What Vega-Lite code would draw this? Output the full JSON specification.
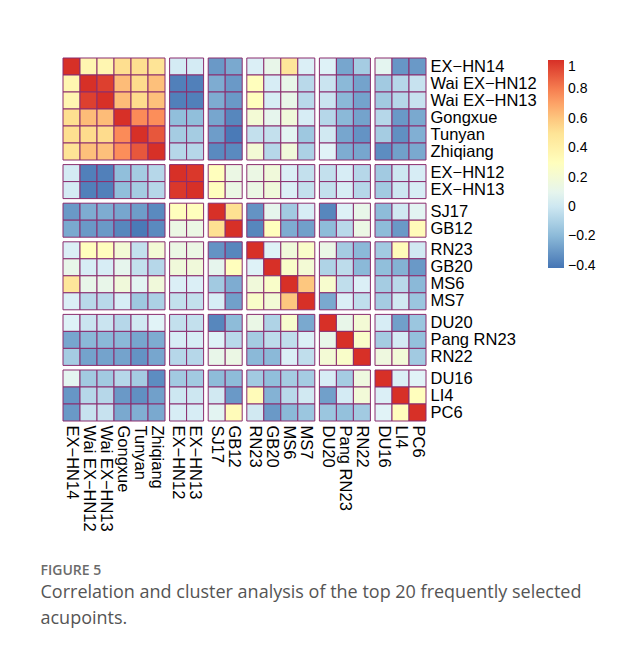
{
"$schema":"https://vega.github.io/schema/vega-lite/v6.json",
"background":"white",
"padding":{"left":40,"top":57,"right":0,"bottom":12},
"autosize":{"type":"pad"},
"title":{"text":"FIGURE 5","subtitle":["Correlation and cluster analysis of the top 20 frequently selected","acupoints."],"orient":"bottom","anchor":"start","frame":"bounds","dx":-22,"offset":33,"font":"Open Sans","fontSize":14,"fontWeight":600,"color":"#6b6b6b","subtitleFont":"Open Sans","subtitleFontSize":18,"subtitleColor":"#555555","subtitleLineHeight":26,"subtitlePadding":6},
"data":{"values":[
{"r":"EX−HN14","rg":1,"c":"EX−HN14","cg":1,"v":1},{"r":"EX−HN14","rg":1,"c":"Wai EX−HN12","cg":1,"v":0.36},{"r":"EX−HN14","rg":1,"c":"Wai EX−HN13","cg":1,"v":0.36},{"r":"EX−HN14","rg":1,"c":"Gongxue","cg":1,"v":0.53},{"r":"EX−HN14","rg":1,"c":"Tunyan","cg":1,"v":0.53},{"r":"EX−HN14","rg":1,"c":"Zhiqiang","cg":1,"v":0.5},{"r":"EX−HN14","rg":1,"c":"EX−HN12","cg":2,"v":0.02},{"r":"EX−HN14","rg":1,"c":"EX−HN13","cg":2,"v":0.02},{"r":"EX−HN14","rg":1,"c":"SJ17","cg":3,"v":-0.3},{"r":"EX−HN14","rg":1,"c":"GB12","cg":3,"v":-0.25},{"r":"EX−HN14","rg":1,"c":"RN23","cg":4,"v":0.04},{"r":"EX−HN14","rg":1,"c":"GB20","cg":4,"v":0.12},{"r":"EX−HN14","rg":1,"c":"MS6","cg":4,"v":0.48},{"r":"EX−HN14","rg":1,"c":"MS7","cg":4,"v":0.04},{"r":"EX−HN14","rg":1,"c":"DU20","cg":5,"v":0.05},{"r":"EX−HN14","rg":1,"c":"Pang RN23","cg":5,"v":-0.26},{"r":"EX−HN14","rg":1,"c":"RN22","cg":5,"v":-0.12},{"r":"EX−HN14","rg":1,"c":"DU16","cg":6,"v":0.09},{"r":"EX−HN14","rg":1,"c":"LI4","cg":6,"v":-0.31},{"r":"EX−HN14","rg":1,"c":"PC6","cg":6,"v":-0.3},
{"r":"Wai EX−HN12","rg":1,"c":"EX−HN14","cg":1,"v":0.36},{"r":"Wai EX−HN12","rg":1,"c":"Wai EX−HN12","cg":1,"v":1},{"r":"Wai EX−HN12","rg":1,"c":"Wai EX−HN13","cg":1,"v":0.96},{"r":"Wai EX−HN12","rg":1,"c":"Gongxue","cg":1,"v":0.63},{"r":"Wai EX−HN12","rg":1,"c":"Tunyan","cg":1,"v":0.54},{"r":"Wai EX−HN12","rg":1,"c":"Zhiqiang","cg":1,"v":0.62},{"r":"Wai EX−HN12","rg":1,"c":"EX−HN12","cg":2,"v":-0.38},{"r":"Wai EX−HN12","rg":1,"c":"EX−HN13","cg":2,"v":-0.38},{"r":"Wai EX−HN12","rg":1,"c":"SJ17","cg":3,"v":-0.24},{"r":"Wai EX−HN12","rg":1,"c":"GB12","cg":3,"v":-0.3},{"r":"Wai EX−HN12","rg":1,"c":"RN23","cg":4,"v":0.3},{"r":"Wai EX−HN12","rg":1,"c":"GB20","cg":4,"v":0.03},{"r":"Wai EX−HN12","rg":1,"c":"MS6","cg":4,"v":0.12},{"r":"Wai EX−HN12","rg":1,"c":"MS7","cg":4,"v":-0.06},{"r":"Wai EX−HN12","rg":1,"c":"DU20","cg":5,"v":-0.01},{"r":"Wai EX−HN12","rg":1,"c":"Pang RN23","cg":5,"v":-0.2},{"r":"Wai EX−HN12","rg":1,"c":"RN22","cg":5,"v":-0.27},{"r":"Wai EX−HN12","rg":1,"c":"DU16","cg":6,"v":-0.13},{"r":"Wai EX−HN12","rg":1,"c":"LI4","cg":6,"v":-0.07},{"r":"Wai EX−HN12","rg":1,"c":"PC6","cg":6,"v":-0.02},
{"r":"Wai EX−HN13","rg":1,"c":"EX−HN14","cg":1,"v":0.36},{"r":"Wai EX−HN13","rg":1,"c":"Wai EX−HN12","cg":1,"v":0.96},{"r":"Wai EX−HN13","rg":1,"c":"Wai EX−HN13","cg":1,"v":1},{"r":"Wai EX−HN13","rg":1,"c":"Gongxue","cg":1,"v":0.63},{"r":"Wai EX−HN13","rg":1,"c":"Tunyan","cg":1,"v":0.54},{"r":"Wai EX−HN13","rg":1,"c":"Zhiqiang","cg":1,"v":0.62},{"r":"Wai EX−HN13","rg":1,"c":"EX−HN12","cg":2,"v":-0.38},{"r":"Wai EX−HN13","rg":1,"c":"EX−HN13","cg":2,"v":-0.38},{"r":"Wai EX−HN13","rg":1,"c":"SJ17","cg":3,"v":-0.24},{"r":"Wai EX−HN13","rg":1,"c":"GB12","cg":3,"v":-0.3},{"r":"Wai EX−HN13","rg":1,"c":"RN23","cg":4,"v":0.3},{"r":"Wai EX−HN13","rg":1,"c":"GB20","cg":4,"v":0.03},{"r":"Wai EX−HN13","rg":1,"c":"MS6","cg":4,"v":0.12},{"r":"Wai EX−HN13","rg":1,"c":"MS7","cg":4,"v":-0.06},{"r":"Wai EX−HN13","rg":1,"c":"DU20","cg":5,"v":-0.01},{"r":"Wai EX−HN13","rg":1,"c":"Pang RN23","cg":5,"v":-0.2},{"r":"Wai EX−HN13","rg":1,"c":"RN22","cg":5,"v":-0.27},{"r":"Wai EX−HN13","rg":1,"c":"DU16","cg":6,"v":-0.13},{"r":"Wai EX−HN13","rg":1,"c":"LI4","cg":6,"v":-0.07},{"r":"Wai EX−HN13","rg":1,"c":"PC6","cg":6,"v":-0.02},
{"r":"Gongxue","rg":1,"c":"EX−HN14","cg":1,"v":0.53},{"r":"Gongxue","rg":1,"c":"Wai EX−HN12","cg":1,"v":0.63},{"r":"Gongxue","rg":1,"c":"Wai EX−HN13","cg":1,"v":0.63},{"r":"Gongxue","rg":1,"c":"Gongxue","cg":1,"v":1},{"r":"Gongxue","rg":1,"c":"Tunyan","cg":1,"v":0.77},{"r":"Gongxue","rg":1,"c":"Zhiqiang","cg":1,"v":0.76},{"r":"Gongxue","rg":1,"c":"EX−HN12","cg":2,"v":-0.18},{"r":"Gongxue","rg":1,"c":"EX−HN13","cg":2,"v":-0.18},{"r":"Gongxue","rg":1,"c":"SJ17","cg":3,"v":-0.26},{"r":"Gongxue","rg":1,"c":"GB12","cg":3,"v":-0.36},{"r":"Gongxue","rg":1,"c":"RN23","cg":4,"v":0.2},{"r":"Gongxue","rg":1,"c":"GB20","cg":4,"v":0.1},{"r":"Gongxue","rg":1,"c":"MS6","cg":4,"v":0.18},{"r":"Gongxue","rg":1,"c":"MS7","cg":4,"v":0.03},{"r":"Gongxue","rg":1,"c":"DU20","cg":5,"v":-0.07},{"r":"Gongxue","rg":1,"c":"Pang RN23","cg":5,"v":-0.2},{"r":"Gongxue","rg":1,"c":"RN22","cg":5,"v":-0.27},{"r":"Gongxue","rg":1,"c":"DU16","cg":6,"v":-0.07},{"r":"Gongxue","rg":1,"c":"LI4","cg":6,"v":-0.3},{"r":"Gongxue","rg":1,"c":"PC6","cg":6,"v":-0.25},
{"r":"Tunyan","rg":1,"c":"EX−HN14","cg":1,"v":0.53},{"r":"Tunyan","rg":1,"c":"Wai EX−HN12","cg":1,"v":0.54},{"r":"Tunyan","rg":1,"c":"Wai EX−HN13","cg":1,"v":0.54},{"r":"Tunyan","rg":1,"c":"Gongxue","cg":1,"v":0.77},{"r":"Tunyan","rg":1,"c":"Tunyan","cg":1,"v":1},{"r":"Tunyan","rg":1,"c":"Zhiqiang","cg":1,"v":0.9},{"r":"Tunyan","rg":1,"c":"EX−HN12","cg":2,"v":-0.12},{"r":"Tunyan","rg":1,"c":"EX−HN13","cg":2,"v":-0.12},{"r":"Tunyan","rg":1,"c":"SJ17","cg":3,"v":-0.29},{"r":"Tunyan","rg":1,"c":"GB12","cg":3,"v":-0.4},{"r":"Tunyan","rg":1,"c":"RN23","cg":4,"v":-0.03},{"r":"Tunyan","rg":1,"c":"GB20","cg":4,"v":-0.03},{"r":"Tunyan","rg":1,"c":"MS6","cg":4,"v":0.08},{"r":"Tunyan","rg":1,"c":"MS7","cg":4,"v":-0.14},{"r":"Tunyan","rg":1,"c":"DU20","cg":5,"v":0.01},{"r":"Tunyan","rg":1,"c":"Pang RN23","cg":5,"v":-0.26},{"r":"Tunyan","rg":1,"c":"RN22","cg":5,"v":-0.32},{"r":"Tunyan","rg":1,"c":"DU16","cg":6,"v":-0.12},{"r":"Tunyan","rg":1,"c":"LI4","cg":6,"v":-0.33},{"r":"Tunyan","rg":1,"c":"PC6","cg":6,"v":-0.23},
{"r":"Zhiqiang","rg":1,"c":"EX−HN14","cg":1,"v":0.5},{"r":"Zhiqiang","rg":1,"c":"Wai EX−HN12","cg":1,"v":0.62},{"r":"Zhiqiang","rg":1,"c":"Wai EX−HN13","cg":1,"v":0.62},{"r":"Zhiqiang","rg":1,"c":"Gongxue","cg":1,"v":0.76},{"r":"Zhiqiang","rg":1,"c":"Tunyan","cg":1,"v":0.9},{"r":"Zhiqiang","rg":1,"c":"Zhiqiang","cg":1,"v":1},{"r":"Zhiqiang","rg":1,"c":"EX−HN12","cg":2,"v":-0.07},{"r":"Zhiqiang","rg":1,"c":"EX−HN13","cg":2,"v":-0.07},{"r":"Zhiqiang","rg":1,"c":"SJ17","cg":3,"v":-0.35},{"r":"Zhiqiang","rg":1,"c":"GB12","cg":3,"v":-0.35},{"r":"Zhiqiang","rg":1,"c":"RN23","cg":4,"v":0.2},{"r":"Zhiqiang","rg":1,"c":"GB20","cg":4,"v":-0.07},{"r":"Zhiqiang","rg":1,"c":"MS6","cg":4,"v":0.18},{"r":"Zhiqiang","rg":1,"c":"MS7","cg":4,"v":-0.1},{"r":"Zhiqiang","rg":1,"c":"DU20","cg":5,"v":0.06},{"r":"Zhiqiang","rg":1,"c":"Pang RN23","cg":5,"v":-0.24},{"r":"Zhiqiang","rg":1,"c":"RN22","cg":5,"v":-0.26},{"r":"Zhiqiang","rg":1,"c":"DU16","cg":6,"v":-0.34},{"r":"Zhiqiang","rg":1,"c":"LI4","cg":6,"v":-0.28},{"r":"Zhiqiang","rg":1,"c":"PC6","cg":6,"v":-0.25},
{"r":"EX−HN12","rg":2,"c":"EX−HN14","cg":1,"v":0.02},{"r":"EX−HN12","rg":2,"c":"Wai EX−HN12","cg":1,"v":-0.38},{"r":"EX−HN12","rg":2,"c":"Wai EX−HN13","cg":1,"v":-0.38},{"r":"EX−HN12","rg":2,"c":"Gongxue","cg":1,"v":-0.18},{"r":"EX−HN12","rg":2,"c":"Tunyan","cg":1,"v":-0.12},{"r":"EX−HN12","rg":2,"c":"Zhiqiang","cg":1,"v":-0.07},{"r":"EX−HN12","rg":2,"c":"EX−HN12","cg":2,"v":1},{"r":"EX−HN12","rg":2,"c":"EX−HN13","cg":2,"v":0.98},{"r":"EX−HN12","rg":2,"c":"SJ17","cg":3,"v":0.3},{"r":"EX−HN12","rg":2,"c":"GB12","cg":3,"v":0.14},{"r":"EX−HN12","rg":2,"c":"RN23","cg":4,"v":0.14},{"r":"EX−HN12","rg":2,"c":"GB20","cg":4,"v":0.18},{"r":"EX−HN12","rg":2,"c":"MS6","cg":4,"v":0.04},{"r":"EX−HN12","rg":2,"c":"MS7","cg":4,"v":-0.03},{"r":"EX−HN12","rg":2,"c":"DU20","cg":5,"v":-0.03},{"r":"EX−HN12","rg":2,"c":"Pang RN23","cg":5,"v":0.03},{"r":"EX−HN12","rg":2,"c":"RN22","cg":5,"v":-0.07},{"r":"EX−HN12","rg":2,"c":"DU16","cg":6,"v":-0.13},{"r":"EX−HN12","rg":2,"c":"LI4","cg":6,"v":0},{"r":"EX−HN12","rg":2,"c":"PC6","cg":6,"v":0.03},
{"r":"EX−HN13","rg":2,"c":"EX−HN14","cg":1,"v":0.02},{"r":"EX−HN13","rg":2,"c":"Wai EX−HN12","cg":1,"v":-0.38},{"r":"EX−HN13","rg":2,"c":"Wai EX−HN13","cg":1,"v":-0.38},{"r":"EX−HN13","rg":2,"c":"Gongxue","cg":1,"v":-0.18},{"r":"EX−HN13","rg":2,"c":"Tunyan","cg":1,"v":-0.12},{"r":"EX−HN13","rg":2,"c":"Zhiqiang","cg":1,"v":-0.07},{"r":"EX−HN13","rg":2,"c":"EX−HN12","cg":2,"v":0.98},{"r":"EX−HN13","rg":2,"c":"EX−HN13","cg":2,"v":1},{"r":"EX−HN13","rg":2,"c":"SJ17","cg":3,"v":0.3},{"r":"EX−HN13","rg":2,"c":"GB12","cg":3,"v":0.14},{"r":"EX−HN13","rg":2,"c":"RN23","cg":4,"v":0.14},{"r":"EX−HN13","rg":2,"c":"GB20","cg":4,"v":0.18},{"r":"EX−HN13","rg":2,"c":"MS6","cg":4,"v":0.04},{"r":"EX−HN13","rg":2,"c":"MS7","cg":4,"v":-0.03},{"r":"EX−HN13","rg":2,"c":"DU20","cg":5,"v":-0.03},{"r":"EX−HN13","rg":2,"c":"Pang RN23","cg":5,"v":0.03},{"r":"EX−HN13","rg":2,"c":"RN22","cg":5,"v":-0.07},{"r":"EX−HN13","rg":2,"c":"DU16","cg":6,"v":-0.13},{"r":"EX−HN13","rg":2,"c":"LI4","cg":6,"v":0},{"r":"EX−HN13","rg":2,"c":"PC6","cg":6,"v":0.03},
{"r":"SJ17","rg":3,"c":"EX−HN14","cg":1,"v":-0.3},{"r":"SJ17","rg":3,"c":"Wai EX−HN12","cg":1,"v":-0.24},{"r":"SJ17","rg":3,"c":"Wai EX−HN13","cg":1,"v":-0.24},{"r":"SJ17","rg":3,"c":"Gongxue","cg":1,"v":-0.26},{"r":"SJ17","rg":3,"c":"Tunyan","cg":1,"v":-0.29},{"r":"SJ17","rg":3,"c":"Zhiqiang","cg":1,"v":-0.35},{"r":"SJ17","rg":3,"c":"EX−HN12","cg":2,"v":0.3},{"r":"SJ17","rg":3,"c":"EX−HN13","cg":2,"v":0.3},{"r":"SJ17","rg":3,"c":"SJ17","cg":3,"v":1},{"r":"SJ17","rg":3,"c":"GB12","cg":3,"v":0.52},{"r":"SJ17","rg":3,"c":"RN23","cg":4,"v":-0.32},{"r":"SJ17","rg":3,"c":"GB20","cg":4,"v":0.1},{"r":"SJ17","rg":3,"c":"MS6","cg":4,"v":-0.13},{"r":"SJ17","rg":3,"c":"MS7","cg":4,"v":0.03},{"r":"SJ17","rg":3,"c":"DU20","cg":5,"v":-0.36},{"r":"SJ17","rg":3,"c":"Pang RN23","cg":5,"v":0.05},{"r":"SJ17","rg":3,"c":"RN22","cg":5,"v":0.12},{"r":"SJ17","rg":3,"c":"DU16","cg":6,"v":-0.19},{"r":"SJ17","rg":3,"c":"LI4","cg":6,"v":0.01},{"r":"SJ17","rg":3,"c":"PC6","cg":6,"v":0.08},
{"r":"GB12","rg":3,"c":"EX−HN14","cg":1,"v":-0.25},{"r":"GB12","rg":3,"c":"Wai EX−HN12","cg":1,"v":-0.3},{"r":"GB12","rg":3,"c":"Wai EX−HN13","cg":1,"v":-0.3},{"r":"GB12","rg":3,"c":"Gongxue","cg":1,"v":-0.36},{"r":"GB12","rg":3,"c":"Tunyan","cg":1,"v":-0.4},{"r":"GB12","rg":3,"c":"Zhiqiang","cg":1,"v":-0.35},{"r":"GB12","rg":3,"c":"EX−HN12","cg":2,"v":0.14},{"r":"GB12","rg":3,"c":"EX−HN13","cg":2,"v":0.14},{"r":"GB12","rg":3,"c":"SJ17","cg":3,"v":0.52},{"r":"GB12","rg":3,"c":"GB12","cg":3,"v":1},{"r":"GB12","rg":3,"c":"RN23","cg":4,"v":-0.36},{"r":"GB12","rg":3,"c":"GB20","cg":4,"v":0.3},{"r":"GB12","rg":3,"c":"MS6","cg":4,"v":-0.24},{"r":"GB12","rg":3,"c":"MS7","cg":4,"v":-0.28},{"r":"GB12","rg":3,"c":"DU20","cg":5,"v":-0.19},{"r":"GB12","rg":3,"c":"Pang RN23","cg":5,"v":-0.06},{"r":"GB12","rg":3,"c":"RN22","cg":5,"v":0.14},{"r":"GB12","rg":3,"c":"DU16","cg":6,"v":-0.19},{"r":"GB12","rg":3,"c":"LI4","cg":6,"v":-0.3},{"r":"GB12","rg":3,"c":"PC6","cg":6,"v":0.32},
{"r":"RN23","rg":4,"c":"EX−HN14","cg":1,"v":0.04},{"r":"RN23","rg":4,"c":"Wai EX−HN12","cg":1,"v":0.3},{"r":"RN23","rg":4,"c":"Wai EX−HN13","cg":1,"v":0.3},{"r":"RN23","rg":4,"c":"Gongxue","cg":1,"v":0.2},{"r":"RN23","rg":4,"c":"Tunyan","cg":1,"v":-0.03},{"r":"RN23","rg":4,"c":"Zhiqiang","cg":1,"v":0.2},{"r":"RN23","rg":4,"c":"EX−HN12","cg":2,"v":0.14},{"r":"RN23","rg":4,"c":"EX−HN13","cg":2,"v":0.14},{"r":"RN23","rg":4,"c":"SJ17","cg":3,"v":-0.32},{"r":"RN23","rg":4,"c":"GB12","cg":3,"v":-0.36},{"r":"RN23","rg":4,"c":"RN23","cg":4,"v":1},{"r":"RN23","rg":4,"c":"GB20","cg":4,"v":0.05},{"r":"RN23","rg":4,"c":"MS6","cg":4,"v":0.18},{"r":"RN23","rg":4,"c":"MS7","cg":4,"v":0.25},{"r":"RN23","rg":4,"c":"DU20","cg":5,"v":0.13},{"r":"RN23","rg":4,"c":"Pang RN23","cg":5,"v":-0.12},{"r":"RN23","rg":4,"c":"RN22","cg":5,"v":-0.2},{"r":"RN23","rg":4,"c":"DU16","cg":6,"v":-0.13},{"r":"RN23","rg":4,"c":"LI4","cg":6,"v":0.32},{"r":"RN23","rg":4,"c":"PC6","cg":6,"v":0.01},
{"r":"GB20","rg":4,"c":"EX−HN14","cg":1,"v":0.12},{"r":"GB20","rg":4,"c":"Wai EX−HN12","cg":1,"v":0.03},{"r":"GB20","rg":4,"c":"Wai EX−HN13","cg":1,"v":0.03},{"r":"GB20","rg":4,"c":"Gongxue","cg":1,"v":0.1},{"r":"GB20","rg":4,"c":"Tunyan","cg":1,"v":-0.03},{"r":"GB20","rg":4,"c":"Zhiqiang","cg":1,"v":-0.07},{"r":"GB20","rg":4,"c":"EX−HN12","cg":2,"v":0.18},{"r":"GB20","rg":4,"c":"EX−HN13","cg":2,"v":0.18},{"r":"GB20","rg":4,"c":"SJ17","cg":3,"v":0.1},{"r":"GB20","rg":4,"c":"GB12","cg":3,"v":0.3},{"r":"GB20","rg":4,"c":"RN23","cg":4,"v":0.05},{"r":"GB20","rg":4,"c":"GB20","cg":4,"v":1},{"r":"GB20","rg":4,"c":"MS6","cg":4,"v":0.25},{"r":"GB20","rg":4,"c":"MS7","cg":4,"v":0.2},{"r":"GB20","rg":4,"c":"DU20","cg":5,"v":-0.09},{"r":"GB20","rg":4,"c":"Pang RN23","cg":5,"v":-0.05},{"r":"GB20","rg":4,"c":"RN22","cg":5,"v":-0.2},{"r":"GB20","rg":4,"c":"DU16","cg":6,"v":-0.18},{"r":"GB20","rg":4,"c":"LI4","cg":6,"v":-0.22},{"r":"GB20","rg":4,"c":"PC6","cg":6,"v":-0.3},
{"r":"MS6","rg":4,"c":"EX−HN14","cg":1,"v":0.48},{"r":"MS6","rg":4,"c":"Wai EX−HN12","cg":1,"v":0.12},{"r":"MS6","rg":4,"c":"Wai EX−HN13","cg":1,"v":0.12},{"r":"MS6","rg":4,"c":"Gongxue","cg":1,"v":0.18},{"r":"MS6","rg":4,"c":"Tunyan","cg":1,"v":0.08},{"r":"MS6","rg":4,"c":"Zhiqiang","cg":1,"v":0.18},{"r":"MS6","rg":4,"c":"EX−HN12","cg":2,"v":0.04},{"r":"MS6","rg":4,"c":"EX−HN13","cg":2,"v":0.04},{"r":"MS6","rg":4,"c":"SJ17","cg":3,"v":-0.13},{"r":"MS6","rg":4,"c":"GB12","cg":3,"v":-0.24},{"r":"MS6","rg":4,"c":"RN23","cg":4,"v":0.18},{"r":"MS6","rg":4,"c":"GB20","cg":4,"v":0.25},{"r":"MS6","rg":4,"c":"MS6","cg":4,"v":1},{"r":"MS6","rg":4,"c":"MS7","cg":4,"v":0.6},{"r":"MS6","rg":4,"c":"DU20","cg":5,"v":0.23},{"r":"MS6","rg":4,"c":"Pang RN23","cg":5,"v":-0.04},{"r":"MS6","rg":4,"c":"RN22","cg":5,"v":0.04},{"r":"MS6","rg":4,"c":"DU16","cg":6,"v":-0.12},{"r":"MS6","rg":4,"c":"LI4","cg":6,"v":-0.06},{"r":"MS6","rg":4,"c":"PC6","cg":6,"v":-0.2},
{"r":"MS7","rg":4,"c":"EX−HN14","cg":1,"v":0.04},{"r":"MS7","rg":4,"c":"Wai EX−HN12","cg":1,"v":-0.06},{"r":"MS7","rg":4,"c":"Wai EX−HN13","cg":1,"v":-0.06},{"r":"MS7","rg":4,"c":"Gongxue","cg":1,"v":0.03},{"r":"MS7","rg":4,"c":"Tunyan","cg":1,"v":-0.14},{"r":"MS7","rg":4,"c":"Zhiqiang","cg":1,"v":-0.1},{"r":"MS7","rg":4,"c":"EX−HN12","cg":2,"v":-0.03},{"r":"MS7","rg":4,"c":"EX−HN13","cg":2,"v":-0.03},{"r":"MS7","rg":4,"c":"SJ17","cg":3,"v":0.03},{"r":"MS7","rg":4,"c":"GB12","cg":3,"v":-0.28},{"r":"MS7","rg":4,"c":"RN23","cg":4,"v":0.25},{"r":"MS7","rg":4,"c":"GB20","cg":4,"v":0.2},{"r":"MS7","rg":4,"c":"MS6","cg":4,"v":0.6},{"r":"MS7","rg":4,"c":"MS7","cg":4,"v":1},{"r":"MS7","rg":4,"c":"DU20","cg":5,"v":-0.25},{"r":"MS7","rg":4,"c":"Pang RN23","cg":5,"v":0.04},{"r":"MS7","rg":4,"c":"RN22","cg":5,"v":-0.04},{"r":"MS7","rg":4,"c":"DU16","cg":6,"v":-0.12},{"r":"MS7","rg":4,"c":"LI4","cg":6,"v":0.01},{"r":"MS7","rg":4,"c":"PC6","cg":6,"v":-0.15},
{"r":"DU20","rg":5,"c":"EX−HN14","cg":1,"v":0.05},{"r":"DU20","rg":5,"c":"Wai EX−HN12","cg":1,"v":-0.01},{"r":"DU20","rg":5,"c":"Wai EX−HN13","cg":1,"v":-0.01},{"r":"DU20","rg":5,"c":"Gongxue","cg":1,"v":-0.07},{"r":"DU20","rg":5,"c":"Tunyan","cg":1,"v":0.01},{"r":"DU20","rg":5,"c":"Zhiqiang","cg":1,"v":0.06},{"r":"DU20","rg":5,"c":"EX−HN12","cg":2,"v":-0.03},{"r":"DU20","rg":5,"c":"EX−HN13","cg":2,"v":-0.03},{"r":"DU20","rg":5,"c":"SJ17","cg":3,"v":-0.36},{"r":"DU20","rg":5,"c":"GB12","cg":3,"v":-0.19},{"r":"DU20","rg":5,"c":"RN23","cg":4,"v":0.13},{"r":"DU20","rg":5,"c":"GB20","cg":4,"v":-0.09},{"r":"DU20","rg":5,"c":"MS6","cg":4,"v":0.23},{"r":"DU20","rg":5,"c":"MS7","cg":4,"v":-0.25},{"r":"DU20","rg":5,"c":"DU20","cg":5,"v":1},{"r":"DU20","rg":5,"c":"Pang RN23","cg":5,"v":0.12},{"r":"DU20","rg":5,"c":"RN22","cg":5,"v":0.2},{"r":"DU20","rg":5,"c":"DU16","cg":6,"v":0.03},{"r":"DU20","rg":5,"c":"LI4","cg":6,"v":-0.28},{"r":"DU20","rg":5,"c":"PC6","cg":6,"v":-0.15},
{"r":"Pang RN23","rg":5,"c":"EX−HN14","cg":1,"v":-0.26},{"r":"Pang RN23","rg":5,"c":"Wai EX−HN12","cg":1,"v":-0.2},{"r":"Pang RN23","rg":5,"c":"Wai EX−HN13","cg":1,"v":-0.2},{"r":"Pang RN23","rg":5,"c":"Gongxue","cg":1,"v":-0.2},{"r":"Pang RN23","rg":5,"c":"Tunyan","cg":1,"v":-0.26},{"r":"Pang RN23","rg":5,"c":"Zhiqiang","cg":1,"v":-0.24},{"r":"Pang RN23","rg":5,"c":"EX−HN12","cg":2,"v":0.03},{"r":"Pang RN23","rg":5,"c":"EX−HN13","cg":2,"v":0.03},{"r":"Pang RN23","rg":5,"c":"SJ17","cg":3,"v":0.05},{"r":"Pang RN23","rg":5,"c":"GB12","cg":3,"v":-0.06},{"r":"Pang RN23","rg":5,"c":"RN23","cg":4,"v":-0.12},{"r":"Pang RN23","rg":5,"c":"GB20","cg":4,"v":-0.05},{"r":"Pang RN23","rg":5,"c":"MS6","cg":4,"v":-0.04},{"r":"Pang RN23","rg":5,"c":"MS7","cg":4,"v":0.04},{"r":"Pang RN23","rg":5,"c":"DU20","cg":5,"v":0.12},{"r":"Pang RN23","rg":5,"c":"Pang RN23","cg":5,"v":1},{"r":"Pang RN23","rg":5,"c":"RN22","cg":5,"v":0.25},{"r":"Pang RN23","rg":5,"c":"DU16","cg":6,"v":-0.12},{"r":"Pang RN23","rg":5,"c":"LI4","cg":6,"v":0.02},{"r":"Pang RN23","rg":5,"c":"PC6","cg":6,"v":-0.17},
{"r":"RN22","rg":5,"c":"EX−HN14","cg":1,"v":-0.12},{"r":"RN22","rg":5,"c":"Wai EX−HN12","cg":1,"v":-0.27},{"r":"RN22","rg":5,"c":"Wai EX−HN13","cg":1,"v":-0.27},{"r":"RN22","rg":5,"c":"Gongxue","cg":1,"v":-0.27},{"r":"RN22","rg":5,"c":"Tunyan","cg":1,"v":-0.32},{"r":"RN22","rg":5,"c":"Zhiqiang","cg":1,"v":-0.26},{"r":"RN22","rg":5,"c":"EX−HN12","cg":2,"v":-0.07},{"r":"RN22","rg":5,"c":"EX−HN13","cg":2,"v":-0.07},{"r":"RN22","rg":5,"c":"SJ17","cg":3,"v":0.12},{"r":"RN22","rg":5,"c":"GB12","cg":3,"v":0.14},{"r":"RN22","rg":5,"c":"RN23","cg":4,"v":-0.2},{"r":"RN22","rg":5,"c":"GB20","cg":4,"v":-0.2},{"r":"RN22","rg":5,"c":"MS6","cg":4,"v":0.04},{"r":"RN22","rg":5,"c":"MS7","cg":4,"v":-0.04},{"r":"RN22","rg":5,"c":"DU20","cg":5,"v":0.2},{"r":"RN22","rg":5,"c":"Pang RN23","cg":5,"v":0.25},{"r":"RN22","rg":5,"c":"RN22","cg":5,"v":1},{"r":"RN22","rg":5,"c":"DU16","cg":6,"v":0.16},{"r":"RN22","rg":5,"c":"LI4","cg":6,"v":0.19},{"r":"RN22","rg":5,"c":"PC6","cg":6,"v":-0.13},
{"r":"DU16","rg":6,"c":"EX−HN14","cg":1,"v":0.09},{"r":"DU16","rg":6,"c":"Wai EX−HN12","cg":1,"v":-0.13},{"r":"DU16","rg":6,"c":"Wai EX−HN13","cg":1,"v":-0.13},{"r":"DU16","rg":6,"c":"Gongxue","cg":1,"v":-0.07},{"r":"DU16","rg":6,"c":"Tunyan","cg":1,"v":-0.12},{"r":"DU16","rg":6,"c":"Zhiqiang","cg":1,"v":-0.34},{"r":"DU16","rg":6,"c":"EX−HN12","cg":2,"v":-0.13},{"r":"DU16","rg":6,"c":"EX−HN13","cg":2,"v":-0.13},{"r":"DU16","rg":6,"c":"SJ17","cg":3,"v":-0.19},{"r":"DU16","rg":6,"c":"GB12","cg":3,"v":-0.19},{"r":"DU16","rg":6,"c":"RN23","cg":4,"v":-0.13},{"r":"DU16","rg":6,"c":"GB20","cg":4,"v":-0.18},{"r":"DU16","rg":6,"c":"MS6","cg":4,"v":-0.12},{"r":"DU16","rg":6,"c":"MS7","cg":4,"v":-0.12},{"r":"DU16","rg":6,"c":"DU20","cg":5,"v":0.03},{"r":"DU16","rg":6,"c":"Pang RN23","cg":5,"v":-0.12},{"r":"DU16","rg":6,"c":"RN22","cg":5,"v":0.16},{"r":"DU16","rg":6,"c":"DU16","cg":6,"v":1},{"r":"DU16","rg":6,"c":"LI4","cg":6,"v":0.04},{"r":"DU16","rg":6,"c":"PC6","cg":6,"v":0.06},
{"r":"LI4","rg":6,"c":"EX−HN14","cg":1,"v":-0.31},{"r":"LI4","rg":6,"c":"Wai EX−HN12","cg":1,"v":-0.07},{"r":"LI4","rg":6,"c":"Wai EX−HN13","cg":1,"v":-0.07},{"r":"LI4","rg":6,"c":"Gongxue","cg":1,"v":-0.3},{"r":"LI4","rg":6,"c":"Tunyan","cg":1,"v":-0.33},{"r":"LI4","rg":6,"c":"Zhiqiang","cg":1,"v":-0.28},{"r":"LI4","rg":6,"c":"EX−HN12","cg":2,"v":0},{"r":"LI4","rg":6,"c":"EX−HN13","cg":2,"v":0},{"r":"LI4","rg":6,"c":"SJ17","cg":3,"v":0.01},{"r":"LI4","rg":6,"c":"GB12","cg":3,"v":-0.3},{"r":"LI4","rg":6,"c":"RN23","cg":4,"v":0.32},{"r":"LI4","rg":6,"c":"GB20","cg":4,"v":-0.22},{"r":"LI4","rg":6,"c":"MS6","cg":4,"v":-0.06},{"r":"LI4","rg":6,"c":"MS7","cg":4,"v":0.01},{"r":"LI4","rg":6,"c":"DU20","cg":5,"v":-0.28},{"r":"LI4","rg":6,"c":"Pang RN23","cg":5,"v":0.02},{"r":"LI4","rg":6,"c":"RN22","cg":5,"v":0.19},{"r":"LI4","rg":6,"c":"DU16","cg":6,"v":0.04},{"r":"LI4","rg":6,"c":"LI4","cg":6,"v":1},{"r":"LI4","rg":6,"c":"PC6","cg":6,"v":0.3},
{"r":"PC6","rg":6,"c":"EX−HN14","cg":1,"v":-0.3},{"r":"PC6","rg":6,"c":"Wai EX−HN12","cg":1,"v":-0.02},{"r":"PC6","rg":6,"c":"Wai EX−HN13","cg":1,"v":-0.02},{"r":"PC6","rg":6,"c":"Gongxue","cg":1,"v":-0.25},{"r":"PC6","rg":6,"c":"Tunyan","cg":1,"v":-0.23},{"r":"PC6","rg":6,"c":"Zhiqiang","cg":1,"v":-0.25},{"r":"PC6","rg":6,"c":"EX−HN12","cg":2,"v":0.03},{"r":"PC6","rg":6,"c":"EX−HN13","cg":2,"v":0.03},{"r":"PC6","rg":6,"c":"SJ17","cg":3,"v":0.08},{"r":"PC6","rg":6,"c":"GB12","cg":3,"v":0.32},{"r":"PC6","rg":6,"c":"RN23","cg":4,"v":0.01},{"r":"PC6","rg":6,"c":"GB20","cg":4,"v":-0.3},{"r":"PC6","rg":6,"c":"MS6","cg":4,"v":-0.2},{"r":"PC6","rg":6,"c":"MS7","cg":4,"v":-0.15},{"r":"PC6","rg":6,"c":"DU20","cg":5,"v":-0.15},{"r":"PC6","rg":6,"c":"Pang RN23","cg":5,"v":-0.17},{"r":"PC6","rg":6,"c":"RN22","cg":5,"v":-0.13},{"r":"PC6","rg":6,"c":"DU16","cg":6,"v":0.06},{"r":"PC6","rg":6,"c":"LI4","cg":6,"v":0.3},{"r":"PC6","rg":6,"c":"PC6","cg":6,"v":1}
]},
"columns":6,
"spacing":4.6,
"bounds":"flush",
"concat":[
{"transform":[{"filter":"datum.rg==1&&datum.cg==1"}],"mark":"rect","encoding":{"x":{"field":"c","type":"nominal","sort":null,"axis":null},"y":{"field":"r","type":"nominal","sort":null,"axis":null},"color":{"field":"v","type":"quantitative","scale":{"domain":[-0.416,-0.18,0.056,0.292,0.528,0.764,1],"range":["#4575B4","#91BFDB","#E0F3F8","#FFFFBF","#FEE090","#FC8D59","#D73027"],"interpolate":"rgb"},"legend":{"title":null,"orient":"none","legendX":485,"legendY":2,"direction":"vertical","values":[1,0.8,0.6,0.4,0.2,0,-0.2,-0.4],"format":"~g","gradientLength":208,"gradientThickness":16,"gradientStrokeWidth":0,"labelFont":"Liberation Sans","labelFontSize":14,"labelColor":"#000","labelOffset":4,"labelBaseline":"middle","labelOverlap":false,"padding":0}}}},
{"transform":[{"filter":"datum.rg==1&&datum.cg==2"}],"mark":"rect","encoding":{"x":{"field":"c","type":"nominal","sort":null,"axis":null},"y":{"field":"r","type":"nominal","sort":null,"axis":null},"color":{"field":"v","type":"quantitative","scale":{"domain":[-0.416,-0.18,0.056,0.292,0.528,0.764,1],"range":["#4575B4","#91BFDB","#E0F3F8","#FFFFBF","#FEE090","#FC8D59","#D73027"],"interpolate":"rgb"}}}},
{"transform":[{"filter":"datum.rg==1&&datum.cg==3"}],"mark":"rect","encoding":{"x":{"field":"c","type":"nominal","sort":null,"axis":null},"y":{"field":"r","type":"nominal","sort":null,"axis":null},"color":{"field":"v","type":"quantitative","scale":{"domain":[-0.416,-0.18,0.056,0.292,0.528,0.764,1],"range":["#4575B4","#91BFDB","#E0F3F8","#FFFFBF","#FEE090","#FC8D59","#D73027"],"interpolate":"rgb"}}}},
{"transform":[{"filter":"datum.rg==1&&datum.cg==4"}],"mark":"rect","encoding":{"x":{"field":"c","type":"nominal","sort":null,"axis":null},"y":{"field":"r","type":"nominal","sort":null,"axis":null},"color":{"field":"v","type":"quantitative","scale":{"domain":[-0.416,-0.18,0.056,0.292,0.528,0.764,1],"range":["#4575B4","#91BFDB","#E0F3F8","#FFFFBF","#FEE090","#FC8D59","#D73027"],"interpolate":"rgb"}}}},
{"transform":[{"filter":"datum.rg==1&&datum.cg==5"}],"mark":"rect","encoding":{"x":{"field":"c","type":"nominal","sort":null,"axis":null},"y":{"field":"r","type":"nominal","sort":null,"axis":null},"color":{"field":"v","type":"quantitative","scale":{"domain":[-0.416,-0.18,0.056,0.292,0.528,0.764,1],"range":["#4575B4","#91BFDB","#E0F3F8","#FFFFBF","#FEE090","#FC8D59","#D73027"],"interpolate":"rgb"}}}},
{"transform":[{"filter":"datum.rg==1&&datum.cg==6"}],"mark":"rect","encoding":{"x":{"field":"c","type":"nominal","sort":null,"axis":null},"y":{"field":"r","type":"nominal","sort":null,"axis":{"title":null,"orient":"right"}},"color":{"field":"v","type":"quantitative","scale":{"domain":[-0.416,-0.18,0.056,0.292,0.528,0.764,1],"range":["#4575B4","#91BFDB","#E0F3F8","#FFFFBF","#FEE090","#FC8D59","#D73027"],"interpolate":"rgb"}}}},
{"transform":[{"filter":"datum.rg==2&&datum.cg==1"}],"mark":"rect","encoding":{"x":{"field":"c","type":"nominal","sort":null,"axis":null},"y":{"field":"r","type":"nominal","sort":null,"axis":null},"color":{"field":"v","type":"quantitative","scale":{"domain":[-0.416,-0.18,0.056,0.292,0.528,0.764,1],"range":["#4575B4","#91BFDB","#E0F3F8","#FFFFBF","#FEE090","#FC8D59","#D73027"],"interpolate":"rgb"}}}},
{"transform":[{"filter":"datum.rg==2&&datum.cg==2"}],"mark":"rect","encoding":{"x":{"field":"c","type":"nominal","sort":null,"axis":null},"y":{"field":"r","type":"nominal","sort":null,"axis":null},"color":{"field":"v","type":"quantitative","scale":{"domain":[-0.416,-0.18,0.056,0.292,0.528,0.764,1],"range":["#4575B4","#91BFDB","#E0F3F8","#FFFFBF","#FEE090","#FC8D59","#D73027"],"interpolate":"rgb"}}}},
{"transform":[{"filter":"datum.rg==2&&datum.cg==3"}],"mark":"rect","encoding":{"x":{"field":"c","type":"nominal","sort":null,"axis":null},"y":{"field":"r","type":"nominal","sort":null,"axis":null},"color":{"field":"v","type":"quantitative","scale":{"domain":[-0.416,-0.18,0.056,0.292,0.528,0.764,1],"range":["#4575B4","#91BFDB","#E0F3F8","#FFFFBF","#FEE090","#FC8D59","#D73027"],"interpolate":"rgb"}}}},
{"transform":[{"filter":"datum.rg==2&&datum.cg==4"}],"mark":"rect","encoding":{"x":{"field":"c","type":"nominal","sort":null,"axis":null},"y":{"field":"r","type":"nominal","sort":null,"axis":null},"color":{"field":"v","type":"quantitative","scale":{"domain":[-0.416,-0.18,0.056,0.292,0.528,0.764,1],"range":["#4575B4","#91BFDB","#E0F3F8","#FFFFBF","#FEE090","#FC8D59","#D73027"],"interpolate":"rgb"}}}},
{"transform":[{"filter":"datum.rg==2&&datum.cg==5"}],"mark":"rect","encoding":{"x":{"field":"c","type":"nominal","sort":null,"axis":null},"y":{"field":"r","type":"nominal","sort":null,"axis":null},"color":{"field":"v","type":"quantitative","scale":{"domain":[-0.416,-0.18,0.056,0.292,0.528,0.764,1],"range":["#4575B4","#91BFDB","#E0F3F8","#FFFFBF","#FEE090","#FC8D59","#D73027"],"interpolate":"rgb"}}}},
{"transform":[{"filter":"datum.rg==2&&datum.cg==6"}],"mark":"rect","encoding":{"x":{"field":"c","type":"nominal","sort":null,"axis":null},"y":{"field":"r","type":"nominal","sort":null,"axis":{"title":null,"orient":"right"}},"color":{"field":"v","type":"quantitative","scale":{"domain":[-0.416,-0.18,0.056,0.292,0.528,0.764,1],"range":["#4575B4","#91BFDB","#E0F3F8","#FFFFBF","#FEE090","#FC8D59","#D73027"],"interpolate":"rgb"}}}},
{"transform":[{"filter":"datum.rg==3&&datum.cg==1"}],"mark":"rect","encoding":{"x":{"field":"c","type":"nominal","sort":null,"axis":null},"y":{"field":"r","type":"nominal","sort":null,"axis":null},"color":{"field":"v","type":"quantitative","scale":{"domain":[-0.416,-0.18,0.056,0.292,0.528,0.764,1],"range":["#4575B4","#91BFDB","#E0F3F8","#FFFFBF","#FEE090","#FC8D59","#D73027"],"interpolate":"rgb"}}}},
{"transform":[{"filter":"datum.rg==3&&datum.cg==2"}],"mark":"rect","encoding":{"x":{"field":"c","type":"nominal","sort":null,"axis":null},"y":{"field":"r","type":"nominal","sort":null,"axis":null},"color":{"field":"v","type":"quantitative","scale":{"domain":[-0.416,-0.18,0.056,0.292,0.528,0.764,1],"range":["#4575B4","#91BFDB","#E0F3F8","#FFFFBF","#FEE090","#FC8D59","#D73027"],"interpolate":"rgb"}}}},
{"transform":[{"filter":"datum.rg==3&&datum.cg==3"}],"mark":"rect","encoding":{"x":{"field":"c","type":"nominal","sort":null,"axis":null},"y":{"field":"r","type":"nominal","sort":null,"axis":null},"color":{"field":"v","type":"quantitative","scale":{"domain":[-0.416,-0.18,0.056,0.292,0.528,0.764,1],"range":["#4575B4","#91BFDB","#E0F3F8","#FFFFBF","#FEE090","#FC8D59","#D73027"],"interpolate":"rgb"}}}},
{"transform":[{"filter":"datum.rg==3&&datum.cg==4"}],"mark":"rect","encoding":{"x":{"field":"c","type":"nominal","sort":null,"axis":null},"y":{"field":"r","type":"nominal","sort":null,"axis":null},"color":{"field":"v","type":"quantitative","scale":{"domain":[-0.416,-0.18,0.056,0.292,0.528,0.764,1],"range":["#4575B4","#91BFDB","#E0F3F8","#FFFFBF","#FEE090","#FC8D59","#D73027"],"interpolate":"rgb"}}}},
{"transform":[{"filter":"datum.rg==3&&datum.cg==5"}],"mark":"rect","encoding":{"x":{"field":"c","type":"nominal","sort":null,"axis":null},"y":{"field":"r","type":"nominal","sort":null,"axis":null},"color":{"field":"v","type":"quantitative","scale":{"domain":[-0.416,-0.18,0.056,0.292,0.528,0.764,1],"range":["#4575B4","#91BFDB","#E0F3F8","#FFFFBF","#FEE090","#FC8D59","#D73027"],"interpolate":"rgb"}}}},
{"transform":[{"filter":"datum.rg==3&&datum.cg==6"}],"mark":"rect","encoding":{"x":{"field":"c","type":"nominal","sort":null,"axis":null},"y":{"field":"r","type":"nominal","sort":null,"axis":{"title":null,"orient":"right"}},"color":{"field":"v","type":"quantitative","scale":{"domain":[-0.416,-0.18,0.056,0.292,0.528,0.764,1],"range":["#4575B4","#91BFDB","#E0F3F8","#FFFFBF","#FEE090","#FC8D59","#D73027"],"interpolate":"rgb"}}}},
{"transform":[{"filter":"datum.rg==4&&datum.cg==1"}],"mark":"rect","encoding":{"x":{"field":"c","type":"nominal","sort":null,"axis":null},"y":{"field":"r","type":"nominal","sort":null,"axis":null},"color":{"field":"v","type":"quantitative","scale":{"domain":[-0.416,-0.18,0.056,0.292,0.528,0.764,1],"range":["#4575B4","#91BFDB","#E0F3F8","#FFFFBF","#FEE090","#FC8D59","#D73027"],"interpolate":"rgb"}}}},
{"transform":[{"filter":"datum.rg==4&&datum.cg==2"}],"mark":"rect","encoding":{"x":{"field":"c","type":"nominal","sort":null,"axis":null},"y":{"field":"r","type":"nominal","sort":null,"axis":null},"color":{"field":"v","type":"quantitative","scale":{"domain":[-0.416,-0.18,0.056,0.292,0.528,0.764,1],"range":["#4575B4","#91BFDB","#E0F3F8","#FFFFBF","#FEE090","#FC8D59","#D73027"],"interpolate":"rgb"}}}},
{"transform":[{"filter":"datum.rg==4&&datum.cg==3"}],"mark":"rect","encoding":{"x":{"field":"c","type":"nominal","sort":null,"axis":null},"y":{"field":"r","type":"nominal","sort":null,"axis":null},"color":{"field":"v","type":"quantitative","scale":{"domain":[-0.416,-0.18,0.056,0.292,0.528,0.764,1],"range":["#4575B4","#91BFDB","#E0F3F8","#FFFFBF","#FEE090","#FC8D59","#D73027"],"interpolate":"rgb"}}}},
{"transform":[{"filter":"datum.rg==4&&datum.cg==4"}],"mark":"rect","encoding":{"x":{"field":"c","type":"nominal","sort":null,"axis":null},"y":{"field":"r","type":"nominal","sort":null,"axis":null},"color":{"field":"v","type":"quantitative","scale":{"domain":[-0.416,-0.18,0.056,0.292,0.528,0.764,1],"range":["#4575B4","#91BFDB","#E0F3F8","#FFFFBF","#FEE090","#FC8D59","#D73027"],"interpolate":"rgb"}}}},
{"transform":[{"filter":"datum.rg==4&&datum.cg==5"}],"mark":"rect","encoding":{"x":{"field":"c","type":"nominal","sort":null,"axis":null},"y":{"field":"r","type":"nominal","sort":null,"axis":null},"color":{"field":"v","type":"quantitative","scale":{"domain":[-0.416,-0.18,0.056,0.292,0.528,0.764,1],"range":["#4575B4","#91BFDB","#E0F3F8","#FFFFBF","#FEE090","#FC8D59","#D73027"],"interpolate":"rgb"}}}},
{"transform":[{"filter":"datum.rg==4&&datum.cg==6"}],"mark":"rect","encoding":{"x":{"field":"c","type":"nominal","sort":null,"axis":null},"y":{"field":"r","type":"nominal","sort":null,"axis":{"title":null,"orient":"right"}},"color":{"field":"v","type":"quantitative","scale":{"domain":[-0.416,-0.18,0.056,0.292,0.528,0.764,1],"range":["#4575B4","#91BFDB","#E0F3F8","#FFFFBF","#FEE090","#FC8D59","#D73027"],"interpolate":"rgb"}}}},
{"transform":[{"filter":"datum.rg==5&&datum.cg==1"}],"mark":"rect","encoding":{"x":{"field":"c","type":"nominal","sort":null,"axis":null},"y":{"field":"r","type":"nominal","sort":null,"axis":null},"color":{"field":"v","type":"quantitative","scale":{"domain":[-0.416,-0.18,0.056,0.292,0.528,0.764,1],"range":["#4575B4","#91BFDB","#E0F3F8","#FFFFBF","#FEE090","#FC8D59","#D73027"],"interpolate":"rgb"}}}},
{"transform":[{"filter":"datum.rg==5&&datum.cg==2"}],"mark":"rect","encoding":{"x":{"field":"c","type":"nominal","sort":null,"axis":null},"y":{"field":"r","type":"nominal","sort":null,"axis":null},"color":{"field":"v","type":"quantitative","scale":{"domain":[-0.416,-0.18,0.056,0.292,0.528,0.764,1],"range":["#4575B4","#91BFDB","#E0F3F8","#FFFFBF","#FEE090","#FC8D59","#D73027"],"interpolate":"rgb"}}}},
{"transform":[{"filter":"datum.rg==5&&datum.cg==3"}],"mark":"rect","encoding":{"x":{"field":"c","type":"nominal","sort":null,"axis":null},"y":{"field":"r","type":"nominal","sort":null,"axis":null},"color":{"field":"v","type":"quantitative","scale":{"domain":[-0.416,-0.18,0.056,0.292,0.528,0.764,1],"range":["#4575B4","#91BFDB","#E0F3F8","#FFFFBF","#FEE090","#FC8D59","#D73027"],"interpolate":"rgb"}}}},
{"transform":[{"filter":"datum.rg==5&&datum.cg==4"}],"mark":"rect","encoding":{"x":{"field":"c","type":"nominal","sort":null,"axis":null},"y":{"field":"r","type":"nominal","sort":null,"axis":null},"color":{"field":"v","type":"quantitative","scale":{"domain":[-0.416,-0.18,0.056,0.292,0.528,0.764,1],"range":["#4575B4","#91BFDB","#E0F3F8","#FFFFBF","#FEE090","#FC8D59","#D73027"],"interpolate":"rgb"}}}},
{"transform":[{"filter":"datum.rg==5&&datum.cg==5"}],"mark":"rect","encoding":{"x":{"field":"c","type":"nominal","sort":null,"axis":null},"y":{"field":"r","type":"nominal","sort":null,"axis":null},"color":{"field":"v","type":"quantitative","scale":{"domain":[-0.416,-0.18,0.056,0.292,0.528,0.764,1],"range":["#4575B4","#91BFDB","#E0F3F8","#FFFFBF","#FEE090","#FC8D59","#D73027"],"interpolate":"rgb"}}}},
{"transform":[{"filter":"datum.rg==5&&datum.cg==6"}],"mark":"rect","encoding":{"x":{"field":"c","type":"nominal","sort":null,"axis":null},"y":{"field":"r","type":"nominal","sort":null,"axis":{"title":null,"orient":"right"}},"color":{"field":"v","type":"quantitative","scale":{"domain":[-0.416,-0.18,0.056,0.292,0.528,0.764,1],"range":["#4575B4","#91BFDB","#E0F3F8","#FFFFBF","#FEE090","#FC8D59","#D73027"],"interpolate":"rgb"}}}},
{"transform":[{"filter":"datum.rg==6&&datum.cg==1"}],"mark":"rect","encoding":{"x":{"field":"c","type":"nominal","sort":null,"axis":{"title":null,"orient":"bottom","labelAngle":90}},"y":{"field":"r","type":"nominal","sort":null,"axis":null},"color":{"field":"v","type":"quantitative","scale":{"domain":[-0.416,-0.18,0.056,0.292,0.528,0.764,1],"range":["#4575B4","#91BFDB","#E0F3F8","#FFFFBF","#FEE090","#FC8D59","#D73027"],"interpolate":"rgb"}}}},
{"transform":[{"filter":"datum.rg==6&&datum.cg==2"}],"mark":"rect","encoding":{"x":{"field":"c","type":"nominal","sort":null,"axis":{"title":null,"orient":"bottom","labelAngle":90}},"y":{"field":"r","type":"nominal","sort":null,"axis":null},"color":{"field":"v","type":"quantitative","scale":{"domain":[-0.416,-0.18,0.056,0.292,0.528,0.764,1],"range":["#4575B4","#91BFDB","#E0F3F8","#FFFFBF","#FEE090","#FC8D59","#D73027"],"interpolate":"rgb"}}}},
{"transform":[{"filter":"datum.rg==6&&datum.cg==3"}],"mark":"rect","encoding":{"x":{"field":"c","type":"nominal","sort":null,"axis":{"title":null,"orient":"bottom","labelAngle":90}},"y":{"field":"r","type":"nominal","sort":null,"axis":null},"color":{"field":"v","type":"quantitative","scale":{"domain":[-0.416,-0.18,0.056,0.292,0.528,0.764,1],"range":["#4575B4","#91BFDB","#E0F3F8","#FFFFBF","#FEE090","#FC8D59","#D73027"],"interpolate":"rgb"}}}},
{"transform":[{"filter":"datum.rg==6&&datum.cg==4"}],"mark":"rect","encoding":{"x":{"field":"c","type":"nominal","sort":null,"axis":{"title":null,"orient":"bottom","labelAngle":90}},"y":{"field":"r","type":"nominal","sort":null,"axis":null},"color":{"field":"v","type":"quantitative","scale":{"domain":[-0.416,-0.18,0.056,0.292,0.528,0.764,1],"range":["#4575B4","#91BFDB","#E0F3F8","#FFFFBF","#FEE090","#FC8D59","#D73027"],"interpolate":"rgb"}}}},
{"transform":[{"filter":"datum.rg==6&&datum.cg==5"}],"mark":"rect","encoding":{"x":{"field":"c","type":"nominal","sort":null,"axis":{"title":null,"orient":"bottom","labelAngle":90}},"y":{"field":"r","type":"nominal","sort":null,"axis":null},"color":{"field":"v","type":"quantitative","scale":{"domain":[-0.416,-0.18,0.056,0.292,0.528,0.764,1],"range":["#4575B4","#91BFDB","#E0F3F8","#FFFFBF","#FEE090","#FC8D59","#D73027"],"interpolate":"rgb"}}}},
{"transform":[{"filter":"datum.rg==6&&datum.cg==6"}],"mark":"rect","encoding":{"x":{"field":"c","type":"nominal","sort":null,"axis":{"title":null,"orient":"bottom","labelAngle":90}},"y":{"field":"r","type":"nominal","sort":null,"axis":{"title":null,"orient":"right"}},"color":{"field":"v","type":"quantitative","scale":{"domain":[-0.416,-0.18,0.056,0.292,0.528,0.764,1],"range":["#4575B4","#91BFDB","#E0F3F8","#FFFFBF","#FEE090","#FC8D59","#D73027"],"interpolate":"rgb"}}}}
],
"config":{
"view":{"stroke":null,"discreteWidth":{"step":17},"discreteHeight":{"step":17}},
"rect":{"stroke":"#8B2D6E","strokeWidth":1},
"axis":{"ticks":false,"domain":false,"labelFont":"Liberation Sans","labelFontSize":16.5,"labelColor":"#000000","labelPadding":4,"labelLimit":300}
}
}
